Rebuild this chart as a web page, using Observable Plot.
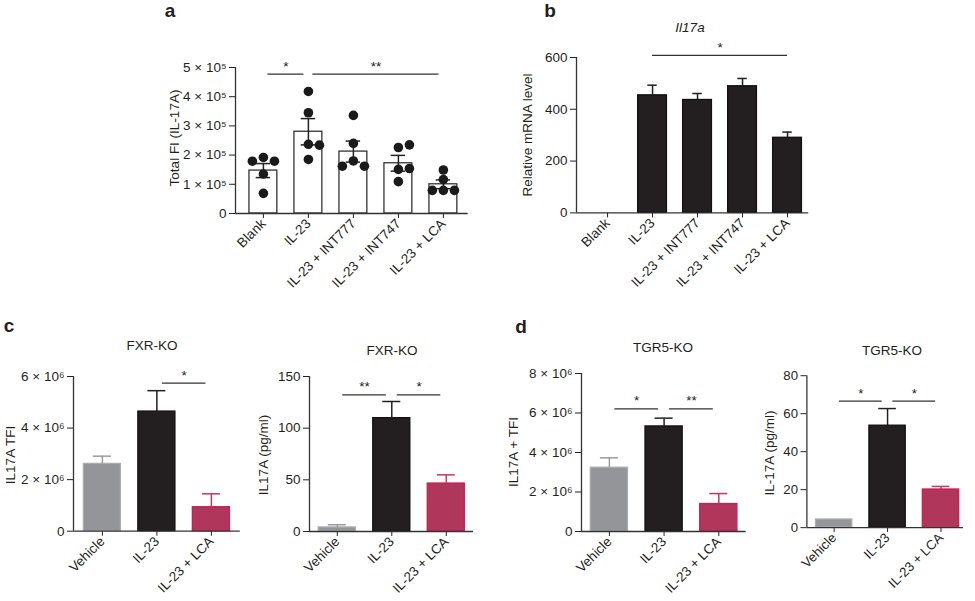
<!DOCTYPE html>
<html><head><meta charset="utf-8">
<script src="https://cdn.jsdelivr.net/npm/d3@7"></script>
<script src="https://cdn.jsdelivr.net/npm/@observablehq/plot@0.6"></script>
<style>
body{margin:0;background:#fff;}
#fig{position:relative;width:975px;height:601px;overflow:hidden;font-family:"Liberation Sans",Arial,Helvetica,sans-serif;color:#231f20;background:#fff;}
.panel{position:absolute;}
.panel svg text{font-family:"Liberation Sans",Arial,Helvetica,sans-serif !important;font-size:13.5px !important;}
.letter{position:absolute;font-weight:bold;font-size:19px;transform:translate(-50%,-50%);}
.title{position:absolute;font-size:13.5px;transform:translate(-50%,-50%);white-space:nowrap;}
.ylab{position:absolute;font-size:13.5px;transform:translate(-50%,-50%) rotate(-90deg);white-space:nowrap;}
</style></head><body><div id="fig"></div>
<script>
// ---------------- data ----------------
const catsTreat = ["Blank", "IL-23", "IL-23 + INT777", "IL-23 + INT747", "IL-23 + LCA"];
const catsKO = ["Vehicle", "IL-23", "IL-23 + LCA"];

// panel a: Total FI (IL-17A)
const aMean = [1.47e5, 2.80e5, 2.12e5, 1.72e5, 1.00e5];
const aSem = [0.24e5, 0.45e5, 0.36e5, 0.27e5, 0.15e5];
const aPoints = [
  [1.92e5, 1.79e5, 1.79e5, 1.35e5, 0.69e5],
  [4.18e5, 3.45e5, 2.37e5, 2.34e5, 1.85e5],
  [3.36e5, 2.40e5, 1.80e5, 1.62e5, 1.62e5],
  [2.26e5, 2.35e5, 1.51e5, 1.54e5, 1.09e5],
  [1.49e5, 1.16e5, 0.79e5, 0.79e5, 0.79e5]
];
const aSig = [
  {from: "Blank", to: "IL-23", y: 4.77e5, label: "*"},
  {from: "IL-23", to: "IL-23 + LCA", y: 4.77e5, label: "**"}
];
const aTicks = [0, 1e5, 2e5, 3e5, 4e5, 5e5];

// panel b: Il17a relative mRNA
const bMean = [0, 454, 436, 489, 290];
const bSem = [0, 39, 25, 30, 22];
const bSig = [{from: "IL-23", to: "IL-23 + LCA", y: 608, label: "*"}];
const bTicks = [0, 200, 400, 600];

// panel c: FXR-KO
const cTfiMean = [2.61e6, 4.64e6, 0.93e6];
const cTfiSem = [0.30e6, 0.81e6, 0.52e6];
const cTfiSig = [{from: "IL-23", to: "IL-23 + LCA", y: 5.74e6, label: "*"}];
const cTfiTicks = [0, 2e6, 4e6, 6e6];
const cPgMean = [3.9, 109.7, 46.4];
const cPgSem = [2.6, 16.1, 8.4];
const cPgSig = [
  {from: "Vehicle", to: "IL-23", y: 132.2, label: "**"},
  {from: "IL-23", to: "IL-23 + LCA", y: 132.2, label: "*"}
];
const cPgTicks = [0, 50, 100, 150];

// panel d: TGR5-KO
const dTfiMean = [3.23e6, 5.32e6, 1.39e6];
const dTfiSem = [0.50e6, 0.42e6, 0.53e6];
const dTfiSig = [
  {from: "Vehicle", to: "IL-23", y: 6.21e6, label: "*"},
  {from: "IL-23", to: "IL-23 + LCA", y: 6.21e6, label: "**"}
];
const dTfiTicks = [0, 2e6, 4e6, 6e6, 8e6];
const dPgMean = [4.3, 53.7, 20.1];
const dPgSem = [0, 9.0, 1.6];
const dPgSig = [
  {from: "Vehicle", to: "IL-23", y: 66.6, label: "*"},
  {from: "IL-23", to: "IL-23 + LCA", y: 66.6, label: "*"}
];
const dPgTicks = [0, 20, 40, 60, 80];

// ---------------- styles ----------------
const SVG_STYLE = 'background: transparent; font-family: "Liberation Sans", Arial, Helvetica, sans-serif; font-size: 13.5px; color: #231f20; overflow: visible;';
const AXIS = "#333";
const openStyle = {fill: "#ffffff", stroke: "#333333", err: "#222222"};
const darkStyle = {fill: "#231f20", stroke: "#111111", err: "#231f20"};
const koStyle = {
  fill: ["#939598", "#231f20", "#b1365b"],
  stroke: ["#abadb0", "#111111", "#c81f55"],
  err: ["#9a9c9f", "#231f20", "#c0395f"]
};

function sup(n) { return String(n).split("").map(c => "⁰¹²³⁴⁵⁶⁷⁸⁹"["0123456789".indexOf(c)]).join(""); }
function sci(exp) { return d => d === 0 ? "0" : `${Math.round(d / 10 ** exp)} × 10${sup(exp)}`; }

// simple beeswarm: slot offsets for overlapping points
function swarm(values, thresh) {
  const placed = [];
  return values.map(v => {
    for (const s of [0, 1, -1, 2, -2]) {
      if (!placed.some(p => p.s === s && Math.abs(p.v - v) < thresh)) { placed.push({v, s}); return s; }
    }
    return 0;
  });
}

const fig = document.getElementById("fig");

function addText(cls, text, x, y, extra) {
  const el = document.createElement("div");
  el.className = cls;
  el.textContent = text;
  el.style.left = x + "px";
  el.style.top = y + "px";
  if (extra) Object.assign(el.style, extra);
  fig.appendChild(el);
}

function panel(cfg) {
  const {cats, means, sems, style, points, sig, yMax, yTicks, yFormat, yLabel, labelPos,
         axisX, y0, yTop, step, domain, barW, capW, twoSided, gap, swarmThresh} = cfg;
  const ml = 82, mr = 12, mt = 40, mb = 110;
  const width = ml + mr + (domain[1] - domain[0]) * step;
  const height = mt + mb + (y0 - yTop);
  const pick = (k, i) => Array.isArray(style[k]) ? style[k][i] : style[k];
  const rows = cats.map((c, i) => ({cat: c, i, mean: means[i], sem: sems[i],
    fill: pick("fill", i), stroke: pick("stroke", i), err: pick("err", i)}));
  const idx = c => cats.indexOf(c);
  const sigRows = sig.map(s => ({...s, x1: idx(s.from) + gap, x2: idx(s.to) - gap}));
  const errRows = rows.filter(d => d.sem > 0);
  const marks = [
    Plot.rect(rows.filter(d => d.mean > 0), {x1: d => d.i - barW / 2, x2: d => d.i + barW / 2, y1: 0, y2: "mean",
      fill: "fill", stroke: "stroke", strokeWidth: 1.3}),
    Plot.ruleX(errRows, {x: "i", y1: d => twoSided ? d.mean - d.sem : d.mean, y2: d => d.mean + d.sem, stroke: "err", strokeWidth: 1.5}),
    Plot.ruleY(errRows, {y: d => d.mean + d.sem, x1: d => d.i - capW / 2, x2: d => d.i + capW / 2, stroke: "err", strokeWidth: 1.5})
  ];
  if (twoSided) {
    marks.push(Plot.ruleY(errRows, {y: d => d.mean - d.sem, x1: d => d.i - capW / 2, x2: d => d.i + capW / 2, stroke: "err", strokeWidth: 1.5}));
  }
  if (points) {
    const pts = [];
    points.forEach((vals, i) => {
      const slots = swarm(vals, swarmThresh);
      vals.forEach((v, j) => pts.push({i, v, s: slots[j]}));
    });
    marks.push(Plot.dot(pts, {x: d => d.i + d.s * 0.245, y: "v", r: 4.8, fill: "#1a1a1a"}));
  }
  marks.push(
    Plot.ruleX([domain[0]], {stroke: AXIS, strokeWidth: 1.3}),
    Plot.ruleY([0], {stroke: AXIS, strokeWidth: 1.3}),
    Plot.ruleY(sigRows, {y: "y", x1: "x1", x2: "x2", stroke: "#333", strokeWidth: 1.3}),
    Plot.text(sigRows, {x: d => (d.x1 + d.x2) / 2, y: "y", text: "label", dy: -8, fontSize: 14, fill: "#222"})
  );
  const svg = Plot.plot({
    width, height, marginLeft: ml, marginRight: mr, marginTop: mt, marginBottom: mb,
    style: SVG_STYLE,
    x: {domain, ticks: d3.range(cats.length), tickFormat: i => cats[i], tickRotate: -45, tickSize: 5, tickPadding: 3, label: null},
    y: {domain: [0, yMax], ticks: yTicks, tickFormat: yFormat, tickSize: 6, tickPadding: 3, label: null},
    color: {type: "identity"},
    marks
  });
  const div = document.createElement("div");
  div.className = "panel";
  div.style.left = (axisX - ml) + "px";
  div.style.top = (yTop - mt) + "px";
  div.appendChild(svg);
  fig.appendChild(div);
  addText("ylab", yLabel, labelPos[0], labelPos[1]);
}

panel({cats: catsTreat, means: aMean, sems: aSem, style: openStyle, points: aPoints, sig: aSig,
  yMax: 5e5, yTicks: aTicks, yFormat: sci(5), yLabel: "Total FI (IL-17A)", labelPos: [174, 138],
  axisX: 235, y0: 212.7, yTop: 66.7, step: 45, domain: [-0.62, 4.55], barW: 0.62, capW: 0.32,
  twoSided: true, gap: 0.1, swarmThresh: 0.32e5});

panel({cats: catsTreat, means: bMean, sems: bSem, style: darkStyle, sig: bSig,
  yMax: 600, yTicks: bTicks, yFormat: d3.format("d"), yLabel: "Relative mRNA level", labelPos: [527, 135],
  axisX: 576, y0: 212.7, yTop: 57.3, step: 45, domain: [-0.69, 4.47], barW: 0.64, capW: 0.21,
  twoSided: false, gap: 0});

panel({cats: catsKO, means: cTfiMean, sems: cTfiSem, style: koStyle, sig: cTfiSig,
  yMax: 6e6, yTicks: cTfiTicks, yFormat: sci(6), yLabel: "IL17A TFI", labelPos: [10, 455],
  axisX: 73.3, y0: 530.7, yTop: 376, step: 54.5, domain: [-0.53, 2.53], barW: 0.68, capW: 0.33,
  twoSided: false, gap: 0.1});

panel({cats: catsKO, means: cPgMean, sems: cPgSem, style: koStyle, sig: cPgSig,
  yMax: 150, yTicks: cPgTicks, yFormat: d3.format("d"), yLabel: "IL17A (pg/ml)", labelPos: [263, 455],
  axisX: 309.3, y0: 530.7, yTop: 375.7, step: 54.5, domain: [-0.51, 2.5], barW: 0.68, capW: 0.33,
  twoSided: false, gap: 0.1});

panel({cats: catsKO, means: dTfiMean, sems: dTfiSem, style: koStyle, sig: dTfiSig,
  yMax: 8e6, yTicks: dTfiTicks, yFormat: sci(6), yLabel: "IL17A + TFI", labelPos: [513, 452],
  axisX: 580.7, y0: 530.7, yTop: 372.7, step: 54.7, domain: [-0.51, 2.5], barW: 0.68, capW: 0.33,
  twoSided: false, gap: 0.1});

panel({cats: catsKO, means: dPgMean, sems: dPgSem, style: koStyle, sig: dPgSig,
  yMax: 80, yTicks: dPgTicks, yFormat: d3.format("d"), yLabel: "IL-17A (pg/ml)", labelPos: [769, 453],
  axisX: 808.3, y0: 530.7, yTop: 375.7, step: 54.5, domain: [-0.51, 2.42], barW: 0.68, capW: 0.33,
  twoSided: false, gap: 0.1});

// panel letters and titles
addText("letter", "a", 170, 11);
addText("letter", "b", 550, 11);
addText("letter", "c", 9, 326);
addText("letter", "d", 521, 327);
addText("title", "Il17a", 690, 27, {fontStyle: "italic"});
addText("title", "FXR-KO", 152, 345);
addText("title", "FXR-KO", 392, 350);
addText("title", "TGR5-KO", 663, 347);
addText("title", "TGR5-KO", 892, 350);
</script></body></html>
